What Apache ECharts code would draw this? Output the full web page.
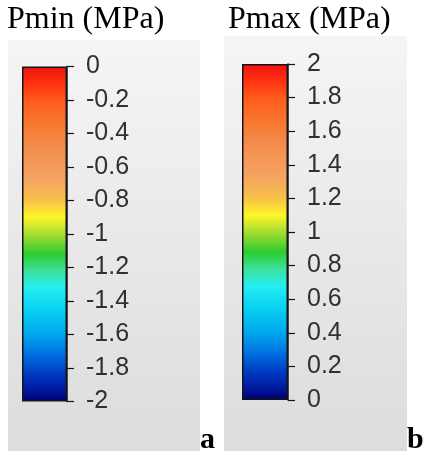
<!DOCTYPE html>
<html>
<head>
<meta charset="utf-8">
<script src="https://cdn.jsdelivr.net/npm/echarts@6/dist/echarts.min.js"></script>
<style>
  html, body { margin: 0; padding: 0; background: #ffffff; }
  #chart { width: 427px; height: 459px; }
</style>
</head>
<body>
<div id="chart"></div>
<script>
// Jet-like colour map, offset 0 = top of the bar (max) to 1 = bottom (min)
const cmapOffsets = [0.00, 0.05, 0.10, 0.16, 0.25, 0.33, 0.40, 0.45, 0.50, 0.56, 0.61, 0.66, 0.72, 0.80, 0.86, 0.92, 0.97, 1.00];
const cmapColors  = ['#f01010', '#ff3212', '#ff5a1a', '#f8742c', '#f39050', '#f4a262', '#f8c048', '#fdf72a', '#a8dc30', '#2ccc30', '#3ee09c', '#26eef0', '#0ad4f2', '#00a6ee', '#0070e0', '#0038c0', '#00159a', '#000070'];

// Pmin colour bar scale
const pminRange = [-2, 0];
const pminStep = 0.2;
const pminTicks = ['-2', '-1.8', '-1.6', '-1.4', '-1.2', '-1', '-0.8', '-0.6', '-0.4', '-0.2', '0'];

// Pmax colour bar scale
const pmaxRange = [0, 2];
const pmaxStep = 0.2;
const pmaxTicks = ['0', '0.2', '0.4', '0.6', '0.8', '1', '1.2', '1.4', '1.6', '1.8', '2'];

const titles = ['Pmin (MPa)', 'Pmax (MPa)'];
const panelLetters = ['a', 'b'];

const chart = echarts.init(document.getElementById('chart'), null, { renderer: 'canvas' });

const gradient = new echarts.graphic.LinearGradient(0, 0, 0, 1,
  cmapOffsets.map((o, i) => ({ offset: o, color: cmapColors[i] })));

const labelFont = { fontFamily: 'Liberation Sans', fontSize: 25, color: '#303030' };
const serifFamily = '"Liberation Serif", "Times New Roman", Times, "DejaVu Serif", serif';

function makeYAxis(gridIndex, range, step, ticks) {
  return {
    type: 'value', gridIndex, position: 'right',
    min: range[0], max: range[1], interval: step,
    splitLine: { show: false },
    axisLine: { show: true, lineStyle: { color: '#151515', width: 1.5 } },
    axisTick: { show: true, length: 7, lineStyle: { color: '#151515', width: 1.2 } },
    axisLabel: Object.assign({
      margin: 19, align: 'left',
      formatter: v => ticks[Math.round((v - range[0]) / step)]
    }, labelFont)
  };
}

function makeXAxis(gridIndex) {
  return {
    type: 'category', gridIndex, data: ['bar'],
    show: false, boundaryGap: true
  };
}

function panelBg(x, y, w, h) {
  return {
    type: 'rect', z: -10, silent: true,
    shape: { x, y, width: w, height: h },
    style: {
      fill: new echarts.graphic.LinearGradient(0, 0, 0, 1, [
        { offset: 0, color: '#f5f5f5' },
        { offset: 1, color: '#dcdcdc' }
      ])
    }
  };
}

// Serif captions drawn as title components
function caption(left, top, text, size, weight) {
  return {
    left, top, text, padding: 0,
    textStyle: { fontFamily: serifFamily, fontSize: size, fontWeight: weight, color: '#000' }
  };
}

const option = {
  animation: false,
  backgroundColor: '#ffffff',
  title: [
    caption(7, 4, titles[0], 32, 'normal'),
    caption(228, 4, titles[1], 32, 'normal'),
    caption(200, 425, panelLetters[0], 30, 'bold'),
    caption(407, 425, panelLetters[1], 30, 'bold')
  ],
  grid: [
    { left: 22, top: 66.5, width: 45, height: 335 },
    { left: 242, top: 64, width: 46, height: 336 }
  ],
  xAxis: [makeXAxis(0), makeXAxis(1)],
  yAxis: [
    makeYAxis(0, pminRange, pminStep, pminTicks),
    makeYAxis(1, pmaxRange, pmaxStep, pmaxTicks)
  ],
  series: [
    {
      type: 'bar', xAxisIndex: 0, yAxisIndex: 0,
      data: [pminRange[0]], barWidth: '100%',
      itemStyle: { color: gradient, borderColor: '#151515', borderWidth: 1.5 }
    },
    {
      type: 'bar', xAxisIndex: 1, yAxisIndex: 1,
      data: [pmaxRange[1]], barWidth: '100%',
      itemStyle: { color: gradient, borderColor: '#151515', borderWidth: 1.5 }
    }
  ],
  graphic: [
    panelBg(8, 40, 192, 411),
    panelBg(224, 36, 183, 415)
  ]
};

chart.setOption(option);
</script>
</body>
</html>
